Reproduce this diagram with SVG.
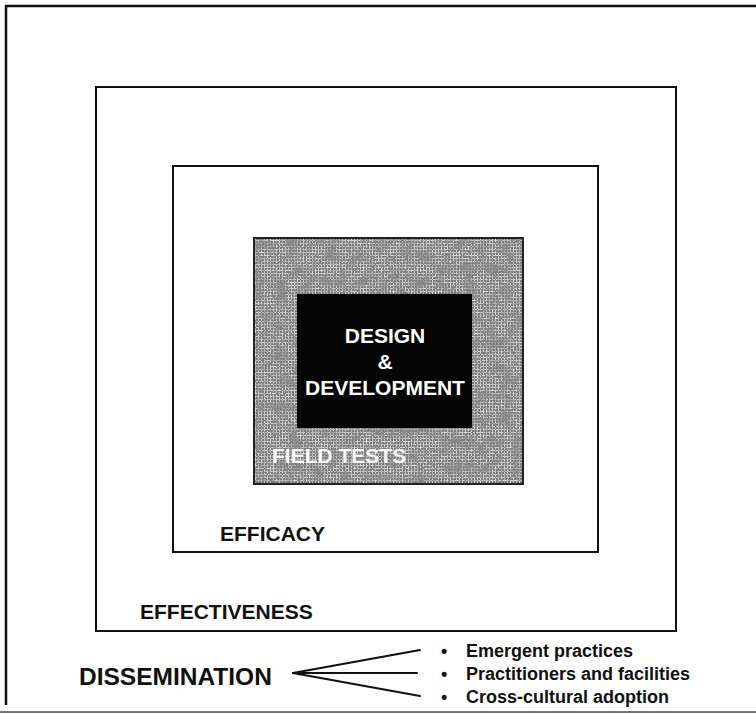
<svg xmlns="http://www.w3.org/2000/svg" width="756" height="714" viewBox="0 0 756 714">
  <style>
    .box { fill: #ffffff; stroke: #111111; stroke-width: 2; }
    .lbl { font-family: "Liberation Sans", Arial, sans-serif; font-weight: bold; fill: #111111; }
    .wlbl { font-family: "Liberation Sans", Arial, sans-serif; font-weight: bold; fill: #ffffff; text-anchor: middle; font-size: 21px; }
    .conn { stroke: #111111; stroke-width: 2; fill: none; stroke-linecap: round; }
  </style>
  <defs>
    <pattern id="grid" width="3" height="3" patternUnits="userSpaceOnUse">
      <rect width="3" height="3" fill="#7c7c7c"/>
      <rect x="0" y="0" width="3" height="1" fill="#d8d8d8"/>
      <rect x="0" y="0" width="1" height="3" fill="#d8d8d8"/>
    </pattern>
    <filter id="noise" x="0" y="0" width="100%" height="100%">
      <feTurbulence type="fractalNoise" baseFrequency="0.6" numOctaves="2" seed="7" result="t"/>
      <feColorMatrix in="t" type="matrix" values="0 0 0 0 0.2  0 0 0 0 0.2  0 0 0 0 0.2  3.2 0 0 0 -1.35" result="n"/>
      <feComposite in="n" in2="SourceGraphic" operator="in"/>
    </filter>
    <filter id="blotch" x="0" y="0" width="100%" height="100%">
      <feTurbulence type="fractalNoise" baseFrequency="0.08" numOctaves="3" seed="11" result="t"/>
      <feColorMatrix in="t" type="matrix" values="0 0 0 0 0.25  0 0 0 0 0.25  0 0 0 0 0.25  2.2 0 0 0 -0.95" result="n"/>
      <feComposite in="n" in2="SourceGraphic" operator="in"/>
    </filter>
  </defs>

  <rect width="756" height="714" fill="#ffffff"/>

  <g id="frame">
    <polyline points="6,705 6,6 756,6" fill="none" stroke="#111111" stroke-width="2.5"/>
    <line x1="0" y1="712" x2="756" y2="712" stroke="#777777" stroke-width="2"/>
  </g>

  <g id="effectiveness">
    <rect class="box" x="96" y="87" width="580" height="544"/>
    <text class="lbl" x="140" y="619" font-size="21">EFFECTIVENESS</text>
  </g>

  <g id="efficacy">
    <rect class="box" x="173" y="166" width="425" height="386"/>
    <text class="lbl" x="220" y="541" font-size="21">EFFICACY</text>
  </g>

  <g id="field-tests">
    <rect x="254" y="238" width="269" height="246" fill="url(#grid)" stroke="#222222" stroke-width="2"/>
    <rect x="255" y="239" width="267" height="244" fill="#000000" filter="url(#blotch)"/>
    <rect x="255" y="239" width="267" height="244" fill="#000000" filter="url(#noise)"/>
    <text x="272" y="463" font-family="Liberation Sans, Arial, sans-serif" font-weight="bold" font-size="21" fill="#ffffff" opacity="0.95">FIELD TESTS</text>
  </g>

  <g id="design-development">
    <rect x="297" y="294" width="175" height="134" fill="#050505"/>
    <text class="wlbl" x="385" y="343">DESIGN</text>
    <text class="wlbl" x="385" y="369">&amp;</text>
    <text class="wlbl" x="385" y="395">DEVELOPMENT</text>
  </g>

  <g id="dissemination">
    <text class="lbl" x="79" y="685" font-size="24.5">DISSEMINATION</text>
  </g>

  <g id="connectors">
    <line class="conn" x1="293" y1="673" x2="420" y2="650"/>
    <line class="conn" x1="293" y1="673" x2="417" y2="673"/>
    <line class="conn" x1="293" y1="673" x2="420" y2="696"/>
  </g>

  <g id="outcomes">
    <text class="lbl" x="441" y="657" font-size="18">•</text>
    <text class="lbl" x="466" y="657" font-size="18">Emergent practices</text>
    <text class="lbl" x="441" y="680" font-size="18">•</text>
    <text class="lbl" x="466" y="680" font-size="18">Practitioners and facilities</text>
    <text class="lbl" x="441" y="703" font-size="18">•</text>
    <text class="lbl" x="466" y="703" font-size="18">Cross-cultural adoption</text>
  </g>
</svg>
